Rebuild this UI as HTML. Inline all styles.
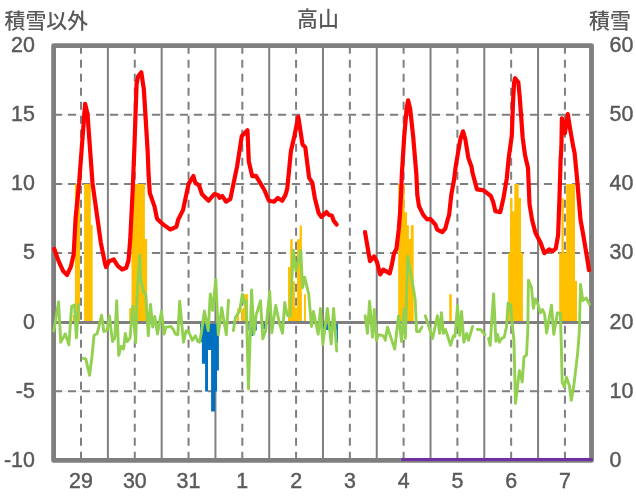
<!DOCTYPE html>
<html lang="ja"><head><meta charset="utf-8"><title>高山</title>
<style>
html,body{margin:0;padding:0;background:#fff;}
body{width:636px;height:501px;overflow:hidden;}
svg{display:block;}
text{font-family:"Liberation Sans","Noto Sans CJK JP",sans-serif;fill:#595959;}
.n{font-size:22.4px;stroke:#595959;stroke-width:0.45px;}
.j{font-size:20.9px;font-weight:500;}
</style></head><body>
<svg width="636" height="501" viewBox="0 0 636 501">
<rect width="636" height="501" fill="#fff"/>

<g stroke="#dcdcdc" stroke-width="0.7">
<line x1="53.6" y1="114.85" x2="591.45" y2="114.85"/>
<line x1="53.6" y1="184.0" x2="591.45" y2="184.0"/>
<line x1="53.6" y1="253.1" x2="591.45" y2="253.1"/>
<line x1="53.6" y1="391.2" x2="591.45" y2="391.2"/>
</g>
<g stroke="#7f7f7f" stroke-width="2" stroke-dasharray="8 6" fill="none">
<line x1="54" y1="114.85" x2="591.45" y2="114.85"/>
<line x1="54" y1="184.0" x2="591.45" y2="184.0"/>
<line x1="54" y1="253.1" x2="591.45" y2="253.1"/>
<line x1="54" y1="391.2" x2="591.45" y2="391.2"/>
<line x1="81.00" y1="45.7" x2="81.00" y2="460.45"/>
<line x1="134.77" y1="45.7" x2="134.77" y2="460.45"/>
<line x1="188.54" y1="45.7" x2="188.54" y2="460.45"/>
<line x1="242.31" y1="45.7" x2="242.31" y2="460.45"/>
<line x1="296.08" y1="45.7" x2="296.08" y2="460.45"/>
<line x1="349.85" y1="45.7" x2="349.85" y2="460.45"/>
<line x1="403.62" y1="45.7" x2="403.62" y2="460.45"/>
<line x1="457.39" y1="45.7" x2="457.39" y2="460.45"/>
<line x1="511.16" y1="45.7" x2="511.16" y2="460.45"/>
<line x1="564.93" y1="45.7" x2="564.93" y2="460.45"/>
</g>
<g stroke="#7f7f7f" stroke-width="2" fill="none">
<line x1="107.90" y1="45.6" x2="107.90" y2="460.45"/>
<line x1="161.67" y1="45.6" x2="161.67" y2="460.45"/>
<line x1="215.44" y1="45.6" x2="215.44" y2="460.45"/>
<line x1="269.21" y1="45.6" x2="269.21" y2="460.45"/>
<line x1="322.98" y1="45.6" x2="322.98" y2="460.45"/>
<line x1="376.75" y1="45.6" x2="376.75" y2="460.45"/>
<line x1="430.52" y1="45.6" x2="430.52" y2="460.45"/>
<line x1="484.29" y1="45.6" x2="484.29" y2="460.45"/>
<line x1="538.06" y1="45.6" x2="538.06" y2="460.45"/>
</g>
<path fill="#ffc000" d="M72.7,322.4L72.7,315.0L75.0,315.0L75.0,322.4ZM74.9,322.4L74.9,184.0L80.0,184.0L80.0,322.4ZM84.1,322.4L84.1,184.0L90.8,184.0L90.8,225.0L92.7,225.0L92.7,322.4ZM129.2,322.4L129.2,308.2L131.5,308.2L131.5,184.0L144.9,184.0L144.9,239.0L147.1,239.0L147.1,322.4ZM237.1,322.4L237.1,308.4L239.0,308.4L239.0,322.4ZM241.3,322.4L241.3,308.4L243.7,308.4L243.7,294.3L247.9,294.3L247.9,322.4ZM288.0,322.4L288.0,267.1L290.2,267.1L290.2,239.2L292.7,239.2L292.7,281.5L294.9,281.5L294.9,307.6L297.1,307.6L297.1,239.2L299.6,239.2L299.6,225.4L301.9,225.4L301.9,322.4ZM304.0,322.4L304.0,294.2L305.9,294.2L305.9,322.4ZM398.2,322.4L398.2,184.0L404.6,184.0L404.6,212.2L407.0,212.2L407.0,225.2L408.9,225.2L408.9,239.0L410.8,239.0L410.8,225.2L413.7,225.2L413.7,322.4ZM449.2,322.4L449.2,294.2L451.8,294.2L451.8,322.4ZM508.2,322.4L508.2,253.0L510.1,253.0L510.1,197.9L512.4,197.9L512.4,211.2L514.3,211.2L514.3,184.0L518.7,184.0L518.7,197.9L521.0,197.9L521.0,253.0L522.9,253.0L522.9,322.4ZM559.2,322.4L559.2,253.0L561.5,253.0L561.5,198.2L563.8,198.2L563.8,253.0L566.2,253.0L566.2,184.0L575.0,184.0L575.0,281.0L577.0,281.0L577.0,322.4Z"/>
<path fill="#0070c0" d="M200.0,322.4L200.0,342.0L201.9,342.0L201.9,363.8L205.1,363.8L205.1,391.4L208.0,391.4L208.0,350.0L211.1,350.0L211.1,411.6L215.1,411.6L215.1,391.4L217.0,391.4L217.0,370.5L218.9,370.5L218.9,322.4ZM248.4,322.4L248.4,330.5L251.4,330.5L251.4,335.9L253.2,335.9L253.2,330.5L256.8,330.5L256.8,322.4ZM263.4,322.4L263.4,329.3L265.4,329.3L265.4,322.4ZM323.0,322.4L323.0,330.0L336.4,330.0L336.4,342.9L337.9,342.9L337.9,322.4Z"/>
<line x1="53.6" y1="322.4" x2="591.45" y2="322.4" stroke="#7f7f7f" stroke-width="3"/>
<rect x="53.6" y="45.6" width="537.9" height="414.8" fill="none" stroke="#7f7f7f" stroke-width="4.8" stroke-linejoin="round"/>
<line x1="402.6" y1="459.5" x2="591.45" y2="459.5" stroke="#7030a0" stroke-width="3.2" stroke-linecap="round"/>
<g fill="none" stroke="#92d050" stroke-width="2.9" stroke-linejoin="round" stroke-linecap="round">
<polyline points="53.8,330.9 58.6,302.0 60.7,342.4 65.3,333.9 68.9,344.9 71.6,306.4 74.5,305.1 76.4,337.8 78.7,304.5"/>
<polyline points="83.0,358.3 85.8,358.9 89.6,375.3 92.1,355.2 94.0,335.5 97.2,333.6 101.6,315.2 103.8,331.5 107.2,330.3 109.4,315.8 112.5,341.6 114.8,337.8 116.7,300.7 118.7,355.5 121.1,346.4 123.6,348.9 125.3,333.5 127.2,341.5 130.0,338.0 132.8,306.4 135.7,342.8 137.0,298.0 139.6,255.1 140.8,279.0 143.3,291.6 145.8,294.0 148.3,335.9 150.5,304.5 152.7,327.1 154.8,316.4 157.5,334.0 161.5,311.4 164.0,334.0 165.9,327.1 170.9,326.5 173.4,329.6 175.3,334.0 177.8,334.7 179.7,301.3 183.5,342.2 186.0,330.9 188.5,331.5 192.3,340.3 195.4,335.9 197.9,341.6 199.5,342.2 201.3,333.0 204.4,310.9 208.2,330.6 210.3,293.9 212.6,310.3 215.8,279.4 218.3,334.8 221.7,307.7 226.3,334.8 228.5,300.1"/>
<polyline points="233.4,330.5 235.5,317.2 239.5,311.4 242.4,294.2 244.3,303.0 246.2,300.7 248.5,388.9 251.6,290.0 253.8,334.1 256.2,315.0 260.5,300.7 262.8,338.9 265.7,330.5 269.7,291.3 271.8,332.9 275.7,305.5 279.5,323.5 282.5,333.2 284.7,302.5 287.4,315.5 290.1,316.0 291.0,298.0 293.3,250.1 295.9,270.5 300.8,250.7 302.5,287.8 304.6,277.1 308.7,294.0 311.5,326.5 313.4,311.4 318.2,334.2 320.4,308.5 322.9,344.3 327.4,308.5 331.2,344.0 333.6,308.5 336.7,351.0"/>
<polyline points="365.2,315.8 367.4,333.4 369.6,301.3 372.5,337.2 374.3,309.5 376.5,340.3 378.4,334.7 383.4,335.9 385.3,340.3 387.5,327.1 394.7,349.1 398.5,315.8 401.6,341.6 403.9,309.5 405.4,338.4 407.7,256.3 413.5,289.0 415.2,300.0 416.6,331.5 419.4,331.5 421.9,327.1"/>
<polyline points="425.3,315.8 432.6,338.4 437.4,315.8 439.6,333.4 441.4,312.6 443.3,333.4 445.6,329.6 450.6,345.3 453.4,335.9 455.0,336.5 457.5,305.7 459.7,335.3 461.6,311.4 463.8,342.2 466.6,333.4 468.5,340.3 472.6,326.5"/>
<polyline points="477.4,329.5 481.0,329.6 482.6,332.0 485.0,334.5"/>
<polyline points="488.5,338.4 490.2,345.4 491.8,320.0 493.6,293.9 494.9,320.0 495.9,341.4 497.5,334.4 499.4,342.2 501.4,338.6 504.2,337.2 506.5,326.8 508.1,302.9 510.6,304.8 512.0,322.0 513.9,340.0 515.5,403.4 519.4,370.7 522.2,382.0 524.0,357.0 526.5,355.1 527.8,330.6 528.4,280.1 531.5,287.6 533.4,308.4 535.3,298.9 537.8,304.0 540.3,312.8 542.6,309.6 544.6,314.0 546.6,333.1 551.5,305.2 553.8,334.4 557.4,312.8 560.3,313.4 561.3,345.0 562.2,382.0 564.3,387.0 566.4,377.3 569.3,385.3 571.3,400.4 574.0,384.0 577.7,352.6 579.3,332.0 580.5,284.5 582.8,300.5 586.3,298.0 589.4,304.2"/>
</g>
<g fill="none" stroke="#ff0000" stroke-width="4.2" stroke-linejoin="round" stroke-linecap="round">
<polyline points="54.3,249.0 58.5,260.9 63.3,271.3 67.1,275.0 70.9,266.5 73.7,254.2 75.6,218.0 79.1,183.0 85.1,103.8 87.5,114.0 92.5,183.0 95.5,204.6 100.8,242.6 105.0,263.4 106.0,267.0 109.0,261.2 113.7,259.5 117.7,265.8 122.3,269.5 126.2,267.8 128.5,260.5 130.2,240.0 132.7,190.0 134.5,145.0 135.6,112.0 136.6,84.0 138.0,76.5 141.3,72.3 143.8,89.0 145.8,121.0 147.7,152.0 148.6,175.0 149.8,193.0 154.5,206.4 157.0,218.7 163.1,224.4 170.3,229.5 176.4,226.8 178.2,219.6 183.0,210.1 185.8,196.9 188.7,183.6 193.4,176.0 195.3,182.7 199.1,185.5 201.9,194.0 204.8,196.9 208.6,200.7 214.3,194.0 218.1,195.0 219.6,197.8 222.2,195.9 226.0,201.6 230.4,198.9 233.3,184.6 237.1,166.4 241.8,136.0 247.5,130.3 248.8,161.6 252.2,176.1 256.0,175.9 264.5,190.3 268.9,200.8 274.0,201.7 277.8,197.9 282.2,200.8 285.4,195.1 287.3,188.4 290.9,151.2 294.4,136.0 298.3,116.7 302.5,144.5 305.3,147.4 309.1,177.8 312.3,182.7 314.8,197.9 318.6,213.1 321.4,216.9 326.5,212.1 329.0,215.0 331.8,215.5 333.7,220.7 336.6,224.5"/>
<polyline points="365.0,232.1 370.0,261.1 374.1,256.4 377.0,262.0 380.2,274.4 383.2,269.6 389.7,273.4 391.6,265.8 394.0,253.5 396.5,248.8 398.8,229.0 400.1,212.6 401.3,190.0 401.8,174.8 404.2,136.9 406.6,109.0 408.1,100.3 410.2,109.0 413.2,136.9 416.4,174.8 417.3,195.0 419.0,206.3 423.4,215.1 427.2,219.5 430.3,218.9 435.3,224.5 437.2,229.6 442.3,232.1 445.4,228.3 447.9,218.9 449.1,215.0 451.4,194.1 454.2,179.0 455.6,167.0 460.3,139.5 463.0,131.3 465.3,139.0 468.3,157.7 471.6,167.0 472.6,173.3 477.0,189.4 483.6,190.3 490.8,196.0 493.1,201.7 495.4,211.2 500.3,212.1 503.5,197.9 506.7,179.0 508.8,157.0 511.8,135.8 513.2,97.9 514.1,82.7 515.1,78.2 518.3,82.3 519.8,97.9 522.7,138.0 525.0,155.0 528.0,168.0 529.5,204.0 532.1,220.0 535.5,233.0 540.6,242.7 544.4,253.2 549.2,249.4 552.4,251.3 555.8,248.4 558.1,235.2 559.4,200.0 560.6,160.0 561.4,147.0 561.9,118.3 564.9,133.3 567.8,114.2 570.0,128.3 573.3,147.0 574.6,153.0 577.0,177.9 580.5,219.6 583.3,235.2 587.1,257.9 589.0,270.2"/>
</g>
<text class="j" x="4.5" y="27.5">積雪以外</text>
<text class="j" x="317.9" y="26.3" text-anchor="middle">高山</text>
<text class="j" x="589" y="27.5">積雪</text>
<text class="n" transform="translate(34.8,52.0) scale(0.955,1)" text-anchor="end">20</text>
<text class="n" transform="translate(34.8,121.1) scale(0.955,1)" text-anchor="end">15</text>
<text class="n" transform="translate(34.8,190.3) scale(0.955,1)" text-anchor="end">10</text>
<text class="n" transform="translate(34.8,259.4) scale(0.955,1)" text-anchor="end">5</text>
<text class="n" transform="translate(34.8,328.6) scale(0.955,1)" text-anchor="end">0</text>
<text class="n" transform="translate(34.8,397.5) scale(0.955,1)" text-anchor="end">-5</text>
<text class="n" transform="translate(34.8,466.6) scale(0.955,1)" text-anchor="end">-10</text>
<text class="n" transform="translate(609.6,52.0) scale(0.955,1)">60</text>
<text class="n" transform="translate(609.6,121.1) scale(0.955,1)">50</text>
<text class="n" transform="translate(609.6,190.3) scale(0.955,1)">40</text>
<text class="n" transform="translate(609.6,259.4) scale(0.955,1)">30</text>
<text class="n" transform="translate(609.6,328.6) scale(0.955,1)">20</text>
<text class="n" transform="translate(609.6,397.5) scale(0.955,1)">10</text>
<text class="n" transform="translate(609.6,466.6) scale(0.955,1)">0</text>
<text class="n" transform="translate(81.0,487.8) scale(0.955,1)" text-anchor="middle">29</text>
<text class="n" transform="translate(134.8,487.8) scale(0.955,1)" text-anchor="middle">30</text>
<text class="n" transform="translate(188.5,487.8) scale(0.955,1)" text-anchor="middle">31</text>
<text class="n" transform="translate(242.3,487.8) scale(0.955,1)" text-anchor="middle">1</text>
<text class="n" transform="translate(296.1,487.8) scale(0.955,1)" text-anchor="middle">2</text>
<text class="n" transform="translate(349.9,487.8) scale(0.955,1)" text-anchor="middle">3</text>
<text class="n" transform="translate(403.6,487.8) scale(0.955,1)" text-anchor="middle">4</text>
<text class="n" transform="translate(457.4,487.8) scale(0.955,1)" text-anchor="middle">5</text>
<text class="n" transform="translate(511.2,487.8) scale(0.955,1)" text-anchor="middle">6</text>
<text class="n" transform="translate(564.9,487.8) scale(0.955,1)" text-anchor="middle">7</text>
</svg></body></html>
